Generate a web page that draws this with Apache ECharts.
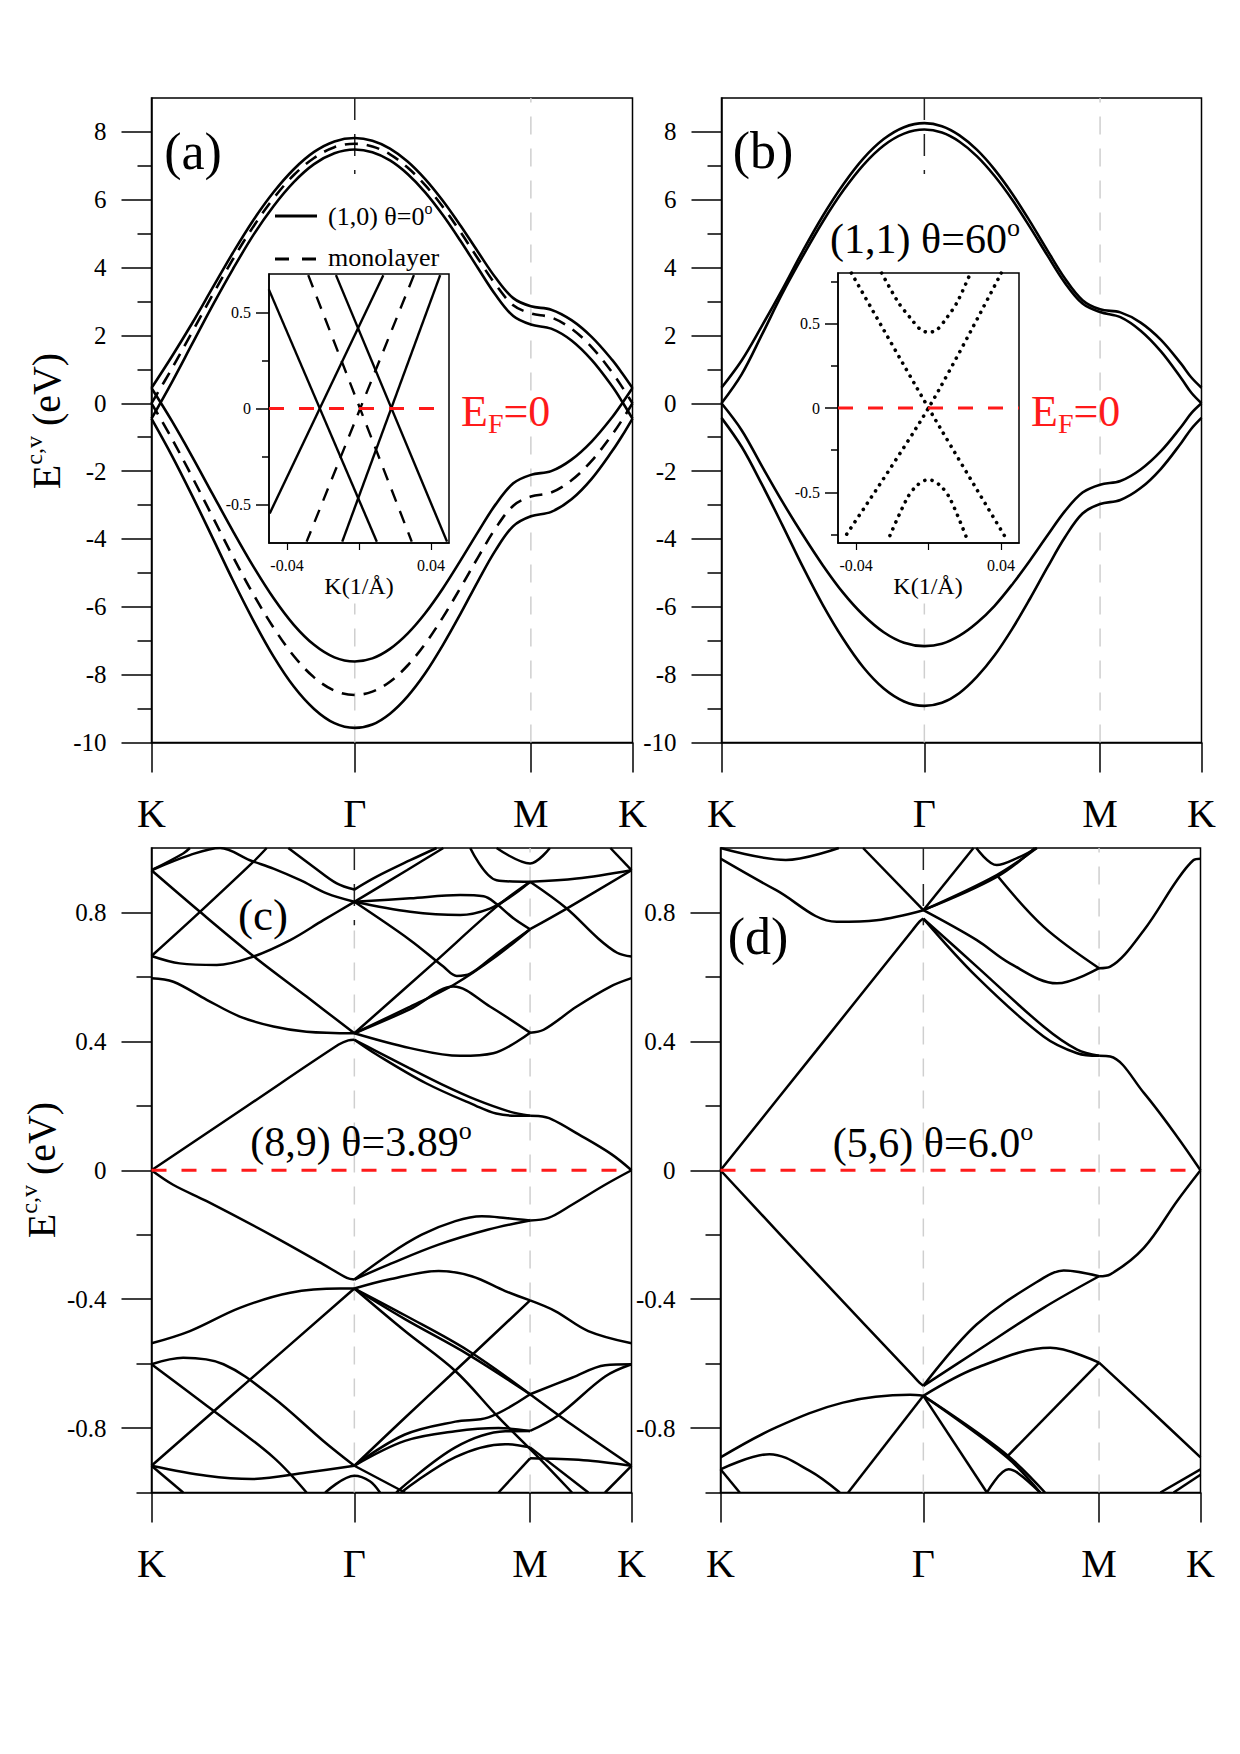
<!DOCTYPE html>
<html><head><meta charset="utf-8">
<script src="https://cdn.jsdelivr.net/npm/echarts/dist/echarts.min.js"></script>
<style>html,body{margin:0;padding:0;background:#fff}#c{width:1240px;height:1754px}</style>
</head><body><div id="c"></div>
<script>
// ---------- tick / label data ----------
const pathTicks = [0, 0.4226, 0.7887, 1];
const pathLabels = ['K', 'Γ', 'M', 'K'];
const yTicksAB = [-10, -8, -6, -4, -2, 0, 2, 4, 6, 8];
const yMinorAB = [-9, -7, -5, -3, -1, 1, 3, 5, 7];
const yTicksCD = [-0.8, -0.4, 0, 0.4, 0.8];
const yMinorCD = [-1, -0.6, -0.2, 0.2, 0.6];
const insetYTicks = [-0.5, 0, 0.5];
const insetAMinor = [-0.25, 0.25];
const insetBMinor = [-0.75, -0.25, 0.25, 0.75];
const insetXTicks = [-0.04, 0, 0.04];
const insetXLabels = [-0.04, 0.04];

// ---------- panel (a),(b): path positions and band energies ----------
const kPath = [0, 0.0423, 0.0845, 0.1268, 0.169, 0.2113, 0.2536, 0.2958, 0.338, 0.3803, 0.4226,
  0.4592, 0.4958, 0.5324, 0.569, 0.6057, 0.6423, 0.6789, 0.7155, 0.7521, 0.7887,
  0.831, 0.8732, 0.9155, 0.9577, 0.9789, 1];
const aMonoC = [0, 1.02, 2.10, 3.19, 4.24, 5.20, 6.04, 6.73, 7.23, 7.55, 7.65, 7.57, 7.34, 6.95, 6.43, 5.79, 5.05, 4.26, 3.50, 2.89, 2.65, 2.53, 2.20, 1.65, 0.91, 0.47, 0];
const aMonoV = [0, -1.04, -2.17, -3.34, -4.51, -5.62, -6.61, -7.45, -8.08, -8.47, -8.60, -8.50, -8.21, -7.73, -7.09, -6.31, -5.44, -4.54, -3.68, -3.02, -2.75, -2.63, -2.27, -1.69, -0.92, -0.48, 0];
const aCOuter = [0.45, 1.38, 2.36, 3.40, 4.43, 5.39, 6.22, 6.90, 7.41, 7.72, 7.82, 7.74, 7.51, 7.13, 6.61, 5.97, 5.24, 4.46, 3.70, 3.10, 2.86, 2.76, 2.45, 1.95, 1.28, 0.88, 0.45];
const aCInner = [-0.45, 0.62, 1.75, 2.88, 3.95, 4.95, 5.81, 6.52, 7.05, 7.37, 7.48, 7.40, 7.16, 6.76, 6.22, 5.55, 4.79, 3.98, 3.19, 2.57, 2.32, 2.20, 1.85, 1.27, 0.50, 0.04, -0.45];
const aVInner = [0.45, -0.52, -1.57, -2.67, -3.76, -4.80, -5.74, -6.53, -7.12, -7.49, -7.61, -7.52, -7.24, -6.79, -6.19, -5.46, -4.64, -3.79, -2.98, -2.36, -2.11, -2.00, -1.66, -1.12, -0.41, 0.01, 0.45];
const aVOuter = [-0.45, -1.54, -2.72, -3.96, -5.21, -6.39, -7.46, -8.35, -9.01, -9.43, -9.57, -9.47, -9.15, -8.64, -7.96, -7.13, -6.21, -5.24, -4.33, -3.62, -3.33, -3.20, -2.83, -2.22, -1.41, -0.95, -0.45];
const bCOuter = [0.46, 1.27, 2.29, 3.36, 4.48, 5.53, 6.45, 7.22, 7.79, 8.14, 8.26, 8.17, 7.90, 7.47, 6.89, 6.18, 5.37, 4.51, 3.68, 3.04, 2.77, 2.68, 2.38, 1.87, 1.16, 0.76, 0.46];
const bCInner = [0, 0.86, 2.03, 3.24, 4.33, 5.36, 6.27, 7.03, 7.60, 7.95, 8.07, 7.98, 7.71, 7.28, 6.70, 6.00, 5.20, 4.36, 3.55, 2.94, 2.69, 2.54, 2.14, 1.53, 0.74, 0.31, 0];
const bVInner = [0, -0.80, -1.86, -2.90, -3.87, -4.78, -5.59, -6.25, -6.75, -7.06, -7.16, -7.09, -6.85, -6.47, -5.97, -5.34, -4.64, -3.90, -3.18, -2.63, -2.40, -2.29, -1.95, -1.41, -0.69, -0.29, 0];
const bVOuter = [-0.43, -1.29, -2.40, -3.59, -4.81, -5.95, -6.95, -7.79, -8.41, -8.79, -8.92, -8.83, -8.54, -8.06, -7.43, -6.65, -5.77, -4.84, -3.95, -3.25, -2.97, -2.85, -2.50, -1.93, -1.17, -0.75, -0.43];

// ---------- insets: [k (1/Å), E (eV)] ----------
const insA_s1 = [[-0.0501, 0.620], [0.0099, -0.693]];
const insA_s2 = [[-0.0496, -0.546], [0.0135, 0.694]];
const insA_s3 = [[-0.0128, 0.694], [0.0489, -0.693]];
const insA_s4 = [[-0.0093, -0.693], [0.0451, 0.694]];
const insA_d1 = [[-0.0282, 0.694], [0.0293, -0.693]];
const insA_d2 = [[0.0305, 0.694], [-0.0291, -0.693]];
const insB_x1 = [[-0.0426, 0.80], [0, 0], [0.0436, -0.786]];
const insB_x2 = [[0.0402, 0.80], [0, 0], [-0.0472, -0.78]];
const insB_up = [[-0.0259, 0.80], [-0.0167, 0.626], [-0.0102, 0.536], [-0.0046, 0.467], [0, 0.448], [0.0046, 0.463], [0.0102, 0.536], [0.0158, 0.626], [0.0232, 0.80]];
const insB_dn = [[-0.0213, -0.756], [-0.012, -0.539], [-0.0065, -0.46], [0, -0.424], [0.0065, -0.46], [0.012, -0.539], [0.0213, -0.776]];

// ---------- panel (c): [path position, E (eV)] ----------
const c_D0 = [[0, 0], [0.2, 0.2], [0.39, 0.39], [0.41, 0.403], [0.4226, 0.405]];
const c_A1 = [[0, 0.931], [0.101, 0.802], [0.212, 0.665], [0.323, 0.539], [0.4226, 0.425]];
const c_A2 = [[0, 0.665], [0.101, 0.802], [0.212, 0.957], [0.24, 1.0]];
const c_A3 = [[0, 0.665], [0.059, 0.642], [0.136, 0.637], [0.212, 0.663], [0.289, 0.714], [0.358, 0.776], [0.4226, 0.833]];
const c_A4 = [[0, 0.931], [0.08, 0.978], [0.143, 1.0], [0.205, 0.962], [0.254, 0.936], [0.31, 0.90], [0.365, 0.859], [0.4226, 0.833]];
const c_A5 = [[0, 0.931], [0.066, 0.983], [0.08, 1.0]];
const c_A6 = [[0, 0.596], [0.0455, 0.585], [0.115, 0.529], [0.184, 0.477], [0.254, 0.446], [0.323, 0.430], [0.4226, 0.425]];
const c_A7 = [[0.285, 1.0], [0.337, 0.942], [0.386, 0.890], [0.4226, 0.871]];
const c_B1 = [[0.4226, 0.871], [0.469, 0.911], [0.539, 0.962], [0.594, 1.0]];
const c_B2 = [[0.4226, 0.833], [0.532, 0.931], [0.608, 1.0]];
const c_B3 = [[0.4226, 0.833], [0.539, 0.844], [0.643, 0.854], [0.692, 0.85], [0.719, 0.826], [0.754, 0.782], [0.7887, 0.748]];
const c_B4 = [[0.4226, 0.833], [0.539, 0.802], [0.643, 0.792], [0.705, 0.812], [0.754, 0.855], [0.7887, 0.895]];
const c_B5 = [[0.4226, 0.833], [0.539, 0.714], [0.608, 0.632], [0.636, 0.603], [0.664, 0.61], [0.719, 0.672], [0.7887, 0.748]];
const c_B6 = [[0.4226, 0.425], [0.539, 0.508], [0.629, 0.575], [0.719, 0.665], [0.7887, 0.748]];
const c_B7 = [[0.4226, 0.425], [0.539, 0.50], [0.629, 0.57], [0.705, 0.508], [0.7887, 0.427]];
const c_B8 = [[0.4226, 0.425], [0.587, 0.642], [0.719, 0.818], [0.7887, 0.895]];
const c_B9 = [[0.4226, 0.425], [0.539, 0.379], [0.643, 0.355], [0.712, 0.363], [0.7887, 0.427]];
const c_B10 = [[0.4226, 0.405], [0.468, 0.36], [0.572, 0.27], [0.676, 0.20], [0.718, 0.176], [0.76, 0.169], [0.7887, 0.169]];
const c_B11 = [[0.4226, 0.405], [0.468, 0.37], [0.537, 0.317], [0.607, 0.265], [0.676, 0.219], [0.746, 0.182], [0.7887, 0.169]];
const c_B12 = [[0.664, 1.0], [0.719, 0.90], [0.7887, 0.895]];
const c_B13 = [[0.719, 1.0], [0.7887, 0.952], [0.83, 1.0]];
const c_C0 = [[0.7887, 0.169], [0.806, 0.168], [0.834, 0.158], [0.889, 0.112], [0.958, 0.05], [1, 0]];
const c_C1 = [[0.7887, 0.427], [0.817, 0.436], [0.886, 0.508], [0.956, 0.570], [1, 0.596]];
const c_C2 = [[0.7887, 0.895], [0.865, 0.812], [0.93, 0.72], [0.97, 0.675], [1, 0.663]];
const c_C3 = [[0.7887, 0.748], [0.865, 0.812], [1, 0.931]];
const c_C4 = [[0.7887, 0.895], [0.886, 0.905], [1, 0.931]];
const c_C6 = [[0.956, 1.0], [1, 0.931]];
const c_V0 = [[0, 0], [0.045, -0.045], [0.115, -0.096], [0.254, -0.205], [0.358, -0.292], [0.407, -0.334], [0.4226, -0.339]];
const c_V1 = [[0.4226, -0.339], [0.494, -0.262], [0.563, -0.20], [0.633, -0.158], [0.688, -0.143], [0.737, -0.148], [0.7887, -0.156]];
const c_V2 = [[0.4226, -0.339], [0.494, -0.293], [0.598, -0.231], [0.702, -0.184], [0.7887, -0.156]];
const c_V3 = [[0.7887, -0.156], [0.827, -0.148], [0.876, -0.107], [0.945, -0.045], [1, 0]];
const c_L1 = [[0, -0.537], [0.08, -0.499], [0.184, -0.427], [0.289, -0.38], [0.393, -0.367], [0.4226, -0.367]];
const c_L2 = [[0, -0.602], [0.066, -0.582], [0.15, -0.602], [0.254, -0.706], [0.358, -0.84], [0.4226, -0.917]];
const c_L3 = [[0, -0.602], [0.125, -0.742], [0.254, -0.891], [0.323, -1.0]];
const c_L4 = [[0, -0.917], [0.125, -0.754], [0.195, -0.663], [0.4226, -0.367]];
const c_L5 = [[0, -0.917], [0.115, -0.948], [0.21, -0.958], [0.323, -0.938], [0.4226, -0.917]];
const c_L6 = [[0, -0.917], [0.066, -1.0]];
const c_L7 = [[0.362, -1.0], [0.4226, -0.948], [0.455, -0.965], [0.476, -1.0]];
const c_E1 = [[0.4226, -0.367], [0.494, -0.339], [0.598, -0.313], [0.667, -0.329], [0.737, -0.375], [0.7887, -0.404]];
const c_E2a = [[0.4226, -0.367], [0.528, -0.45], [0.66, -0.56], [0.7887, -0.695]];
const c_E2b = [[0.4226, -0.367], [0.528, -0.462], [0.66, -0.572], [0.7887, -0.695]];
const c_E3 = [[0.4226, -0.367], [0.528, -0.499], [0.633, -0.623], [0.723, -0.767], [0.806, -0.891], [0.876, -1.0]];
const c_E4 = [[0.4226, -0.917], [0.528, -0.768], [0.62, -0.64], [0.7887, -0.404]];
const c_E5a = [[0.4226, -0.917], [0.528, -0.82], [0.633, -0.78], [0.702, -0.767], [0.7887, -0.695]];
const c_E5b = [[0.4226, -0.917], [0.528, -0.84], [0.633, -0.81], [0.723, -0.80], [0.7887, -0.809]];
const c_E6 = [[0.4226, -0.917], [0.528, -1.0]];
const c_E7a = [[0.52, -1.0], [0.633, -0.89], [0.737, -0.85], [0.7887, -0.86]];
const c_E7b = [[0.51, -1.0], [0.633, -0.86], [0.737, -0.81], [0.7887, -0.809]];
const c_E8 = [[0.723, -1.0], [0.7887, -0.894]];
const c_F1 = [[0.7887, -0.404], [0.841, -0.437], [0.91, -0.499], [1, -0.537]];
const c_F2 = [[0.7887, -0.695], [0.876, -0.644], [0.945, -0.605], [1, -0.602]];
const c_F3 = [[0.7887, -0.809], [0.848, -0.76], [0.945, -0.64], [1, -0.602]];
const c_F4 = [[0.7887, -0.695], [0.876, -0.79], [1, -0.917]];
const c_F5 = [[0.7887, -0.894], [0.9, -0.90], [1, -0.917]];
const c_F6 = [[0.945, -1.0], [1, -0.917]];
const c_F7 = [[0.7887, -0.86], [0.91, -1.0]];

// ---------- panel (d) ----------
const d_G1 = [[0, 0], [0.2, 0.372], [0.40, 0.745], [0.415, 0.772], [0.4226, 0.781]];
const d_G2a = [[0.4226, 0.781], [0.534, 0.632], [0.673, 0.446], [0.743, 0.374], [0.7887, 0.355]];
const d_G2b = [[0.4226, 0.781], [0.534, 0.60], [0.673, 0.415], [0.743, 0.363], [0.7887, 0.355]];
const d_G3 = [[0.4226, 0.807], [0.534, 0.714], [0.603, 0.642], [0.701, 0.58], [0.7887, 0.627]];
const d_G4 = [[0.7887, 0.355], [0.812, 0.353], [0.882, 0.24], [0.951, 0.105], [1, 0]];
const d_G5 = [[0.7887, 0.627], [0.812, 0.632], [0.882, 0.745], [0.951, 0.90], [0.985, 0.962], [1, 0.967]];
const d_G6 = [[0, 0.967], [0.116, 0.869], [0.242, 0.771], [0.325, 0.776], [0.4226, 0.807]];
const d_G7 = [[0, 1.0], [0.136, 0.963], [0.2465, 1.0]];
const d_G8 = [[0.297, 1.0], [0.4226, 0.807]];
const d_G9 = [[0.4226, 0.807], [0.527, 1.0]];
const d_G10 = [[0.4226, 0.807], [0.5755, 0.916], [0.659, 1.0]];
const d_G10b = [[0.4226, 0.807], [0.5755, 0.91], [0.655, 1.0]];
const d_G11 = [[0.533, 1.0], [0.5755, 0.947], [0.62, 0.97], [0.659, 1.0]];
const d_G12 = [[0.5755, 0.916], [0.673, 0.756], [0.7887, 0.627]];
const d_H1 = [[0, 0], [0.2, -0.32], [0.40, -0.636], [0.415, -0.66], [0.4226, -0.669]];
const d_H2a = [[0.4226, -0.669], [0.534, -0.478], [0.673, -0.334], [0.715, -0.311], [0.7887, -0.329]];
const d_H2b = [[0.4226, -0.669], [0.534, -0.561], [0.673, -0.427], [0.7887, -0.329]];
const d_H3 = [[0.7887, -0.329], [0.812, -0.323], [0.882, -0.241], [0.951, -0.096], [1, 0]];
const d_H4 = [[0, -0.891], [0.116, -0.798], [0.255, -0.721], [0.395, -0.697], [0.4226, -0.70]];
const d_H5 = [[0.4226, -0.70], [0.534, -0.613], [0.687, -0.551], [0.7887, -0.597]];
const d_H5b = [[0.7887, -0.597], [0.882, -0.726], [1, -0.891]];
const d_H6 = [[0.4226, -0.70], [0.266, -1.0]];
const d_H7 = [[0.4226, -0.70], [0.555, -1.0]];
const d_H7b = [[0.4226, -0.70], [0.596, -0.89], [0.666, -1.0]];
const d_H7c = [[0.4226, -0.70], [0.59, -0.875], [0.676, -1.0]];
const d_H8 = [[0.596, -0.89], [0.7887, -0.597]];
const d_H8b = [[0.555, -1.0], [0.60, -0.928], [0.62, -0.94], [0.666, -1.0]];
const d_H9 = [[0, -0.928], [0.102, -0.881], [0.186, -0.933], [0.2485, -1.0]];
const d_H10 = [[0, -0.928], [0.04, -1.0]];
const d_H11 = [[0.9165, -1.0], [1, -0.928]];
const d_H12 = [[0.944, -1.0], [1, -0.945]];

// ---------- build ----------
const FONT = 'Liberation Serif, serif';
const BLK = '#000';
const RED = '#ff1a1a';
function pathName(v) { let b = 0; for (let i = 1; i < 4; i++) if (Math.abs(pathTicks[i] - v) < Math.abs(pathTicks[b] - v)) b = i; return pathLabels[b]; }
function numFmt(v) { return Math.abs(v) < 1e-9 ? '0' : String(+v.toFixed(2)); }

const G = [
  { left: 151.5, top: 98, width: 481, height: 644.5 },
  { left: 721.5, top: 98, width: 480, height: 644.5 },
  { left: 151.5, top: 848, width: 480, height: 644.5 },
  { left: 720.5, top: 848, width: 480, height: 644.5 },
  { left: 269, top: 274, width: 180, height: 269 },
  { left: 838, top: 273, width: 181, height: 270 }
].map(g => Object.assign({ show: true, borderColor: BLK, borderWidth: 1.5, backgroundColor: 'transparent', containLabel: false }, g));

function mainX(gi) {
  return { type: 'value', gridIndex: gi, min: 0, max: 1, position: 'bottom',
    axisLine: { show: true, onZero: false, lineStyle: { color: BLK, width: 1.5 } },
    axisTick: { show: true, length: 30, customValues: pathTicks, lineStyle: { color: BLK, width: 1.5 } },
    axisLabel: { show: true, customValues: pathTicks, margin: 51, fontSize: 40, fontFamily: FONT, color: BLK, formatter: pathName, showMinLabel: true, showMaxLabel: true },
    splitLine: { show: false } };
}
function yMaj(gi, min, max, vals, len, fs, margin) {
  return { type: 'value', gridIndex: gi, min, max, position: 'left',
    axisLine: { show: true, onZero: false, lineStyle: { color: BLK, width: 1.5 } },
    axisTick: { show: true, length: len, customValues: vals, lineStyle: { color: BLK, width: 1.5 } },
    axisLabel: { show: true, customValues: vals, margin, fontSize: fs, fontFamily: FONT, color: BLK, formatter: numFmt },
    splitLine: { show: false } };
}
function yMin(gi, min, max, vals, len) {
  return { type: 'value', gridIndex: gi, min, max, position: 'left', offset: 0,
    axisLine: { show: false, onZero: false },
    axisTick: { show: true, length: len, customValues: vals, lineStyle: { color: BLK, width: 1.5 } },
    axisLabel: { show: false }, splitLine: { show: false } };
}
function insX(gi) {
  return { type: 'value', gridIndex: gi, min: -0.05, max: 0.05, position: 'bottom',
    axisLine: { show: true, onZero: false, lineStyle: { color: BLK, width: 1.5 } },
    axisTick: { show: true, length: 7, customValues: insetXTicks, lineStyle: { color: BLK, width: 1.2 } },
    axisLabel: { show: true, customValues: insetXLabels, margin: 14, fontSize: 16, fontFamily: FONT, color: BLK, formatter: numFmt },
    splitLine: { show: false } };
}

const xAxis = [mainX(0), mainX(1), mainX(2), mainX(3), insX(4), insX(5)];
const yAxis = [
  yMaj(0, -10, 9, yTicksAB, 30, 25, 45), yMin(0, -10, 9, yMinorAB, 14),
  yMaj(1, -10, 9, yTicksAB, 30, 25, 45), yMin(1, -10, 9, yMinorAB, 14),
  yMaj(2, -1, 1, yTicksCD, 30, 25, 45), yMin(2, -1, 1, yMinorCD, 15),
  yMaj(3, -1, 1, yTicksCD, 30, 25, 45), yMin(3, -1, 1, yMinorCD, 15),
  yMaj(4, -0.7, 0.7, insetYTicks, 13, 16, 18), yMin(4, -0.7, 0.7, insetAMinor, 7),
  yMaj(5, -0.8, 0.8, insetYTicks, 13, 16, 18), yMin(5, -0.8, 0.8, insetBMinor, 7)
];
const YI = [0, 2, 4, 6, 8, 10];

const series = [];
function addLine(data, g, style, extra) {
  series.push(Object.assign({ type: 'line', xAxisIndex: g, yAxisIndex: YI[g], data, symbol: 'none', showSymbol: false,
    smooth: 0.35, silent: true, clip: true, animation: false, z: 3,
    lineStyle: Object.assign({ color: BLK, width: 2.6, type: 'solid' }, style || {}) }, extra || {}));
}
const zip = arr => kPath.map((x, i) => [x, arr[i]]);
const GREY = { color: '#cfcfcf', width: 1.5, type: [18, 14] };
const BDASH = { color: '#222', width: 1.5, type: [22, 14] };

// vertical guide lines
[0, 1].forEach(g => {
  addLine([[0.7887, -10], [0.7887, 9]], g, GREY, { smooth: false, z: 1 });
  addLine([[0.4226, -10], [0.4226, -5.9]], g, GREY, { smooth: false, z: 1 });
  addLine([[0.4226, 9], [0.4226, 6.76]], g, BDASH, { smooth: false, z: 1 });
});
[2, 3].forEach(g => {
  addLine([[0.7887, -1], [0.7887, 1]], g, GREY, { smooth: false, z: 1 });
  addLine([[0.4226, -1], [0.4226, 0.76]], g, GREY, { smooth: false, z: 1 });
  addLine([[0.4226, 1], [0.4226, 0.76]], g, BDASH, { smooth: false, z: 1 });
});

// panel (a)
addLine(zip(aMonoC), 0, { type: [13, 9] });
addLine(zip(aMonoV), 0, { type: [13, 9] });
[aCOuter, aCInner, aVInner, aVOuter].forEach(a => addLine(zip(a), 0));
// panel (b)
[bCOuter, bCInner, bVInner, bVOuter].forEach(a => addLine(zip(a), 1));
// panel (c)
[c_D0, c_A1, c_A2, c_A3, c_A4, c_A5, c_A6, c_A7, c_B1, c_B2, c_B3, c_B4, c_B5, c_B6, c_B7, c_B8, c_B9, c_B10, c_B11, c_B12, c_B13,
 c_C0, c_C1, c_C2, c_C3, c_C4, c_C6, c_V0, c_V1, c_V2, c_V3, c_L1, c_L2, c_L3, c_L4, c_L5, c_L6, c_L7,
 c_E1, c_E2a, c_E2b, c_E3, c_E4, c_E5a, c_E5b, c_E6, c_E7a, c_E7b, c_E8, c_F1, c_F2, c_F3, c_F4, c_F5, c_F6, c_F7]
  .forEach(a => addLine(a, 2, { width: 2.5 }));
// panel (d)
[d_G1, d_G2a, d_G2b, d_G3, d_G4, d_G5, d_G6, d_G7, d_G8, d_G9, d_G10, d_G10b, d_G11, d_G12,
 d_H1, d_H2a, d_H2b, d_H3, d_H4, d_H5, d_H5b, d_H6, d_H7, d_H7b, d_H7c, d_H8, d_H8b, d_H9, d_H10, d_H11, d_H12]
  .forEach(a => addLine(a, 3, { width: 2.5 }));
// Fermi level lines
addLine([[0, 0], [1, 0]], 2, { color: RED, width: 3, type: [15, 15] }, { smooth: false, z: 5 });
addLine([[0, 0], [1, 0]], 3, { color: RED, width: 3, type: [15, 15] }, { smooth: false, z: 5 });
// inset (a)
[insA_s1, insA_s2, insA_s3, insA_s4].forEach(a => addLine(a, 4, { width: 2.4 }, { smooth: false }));
[insA_d1, insA_d2].forEach(a => addLine(a, 4, { width: 2.4, type: [13, 10] }, { smooth: false }));
addLine([[-0.05, 0], [0.05, 0]], 4, { color: RED, width: 3, type: [15, 15] }, { smooth: false, z: 5 });
// inset (b) dotted
[insB_x1, insB_x2, insB_up, insB_dn].forEach(a => addLine(a, 5, { width: 3.6, type: [0.1, 7.3], cap: 'round' }, { smooth: 0.3 }));
addLine([[-0.05, 0], [0.05, 0]], 5, { color: RED, width: 3, type: [15, 15] }, { smooth: false, z: 5 });

// ---------- text ----------
function txt(x, y, text, rich, extra) {
  return Object.assign({ type: 'text', x, y, z: 100, silent: true,
    style: { text, rich, align: 'center', verticalAlign: 'middle', fill: BLK, fontFamily: FONT } }, extra || {});
}
const richBig = (fs, sup, col) => ({
  m: { fontSize: fs, fontFamily: FONT, lineHeight: Math.round(fs * 1.2), fill: col || BLK },
  s: { fontSize: sup, fontFamily: FONT, lineHeight: sup, verticalAlign: 'top', fill: col || BLK },
  b: { fontSize: sup, fontFamily: FONT, lineHeight: sup, verticalAlign: 'bottom', fill: col || BLK }
});
const graphics = [
  txt(46, 421, '{m|E}{s|c,v}{m| (eV)}', richBig(40, 24), { rotation: Math.PI / 2 }),
  txt(41, 1170, '{m|E}{s|c,v}{m| (eV)}', richBig(40, 24), { rotation: Math.PI / 2 }),
  txt(193, 151, '{m|(a)}', richBig(52, 30)),
  txt(763, 150, '{m|(b)}', richBig(52, 30)),
  txt(263, 915, '{m|(c)}', richBig(45, 30)),
  txt(758, 936, '{m|(d)}', richBig(52, 30)),
  txt(925, 239, '{m|(1,1) θ=60}{s|o}', richBig(42, 26)),
  txt(361, 1142, '{m|(8,9) θ=3.89}{s|o}', richBig(42, 26)),
  txt(933, 1143, '{m|(5,6) θ=6.0}{s|o}', richBig(42, 26)),
  txt(328, 216, '{m|(1,0) θ=0}{s|o}', richBig(26, 16)),
  txt(328, 257, '{m|monolayer}', richBig(26, 16)),
  txt(461, 411, '{m|E}{b|F}{m|=0}', richBig(44, 28, RED)),
  txt(1031, 411, '{m|E}{b|F}{m|=0}', richBig(44, 28, RED)),
  txt(359, 586, '{m|K(1/Å)}', richBig(24, 16)),
  txt(928, 586, '{m|K(1/Å)}', richBig(24, 16)),
  { type: 'line', z: 100, silent: true, shape: { x1: 275, y1: 216, x2: 317, y2: 216 }, style: { stroke: BLK, lineWidth: 3 } },
  { type: 'line', z: 100, silent: true, shape: { x1: 275, y1: 259, x2: 317, y2: 259 }, style: { stroke: BLK, lineWidth: 3, lineDash: [14, 13] } }
];
graphics[9].style.align = 'left';
graphics[10].style.align = 'left';
graphics[11].style.align = 'left';
graphics[12].style.align = 'left';

const chart = echarts.init(document.getElementById('c'), null, { renderer: 'svg', width: 1240, height: 1754 });
chart.setOption({
  animation: false,
  backgroundColor: '#fff',
  textStyle: { fontFamily: FONT },
  grid: G, xAxis, yAxis, series,
  graphic: { elements: graphics }
});
</script></body></html>
